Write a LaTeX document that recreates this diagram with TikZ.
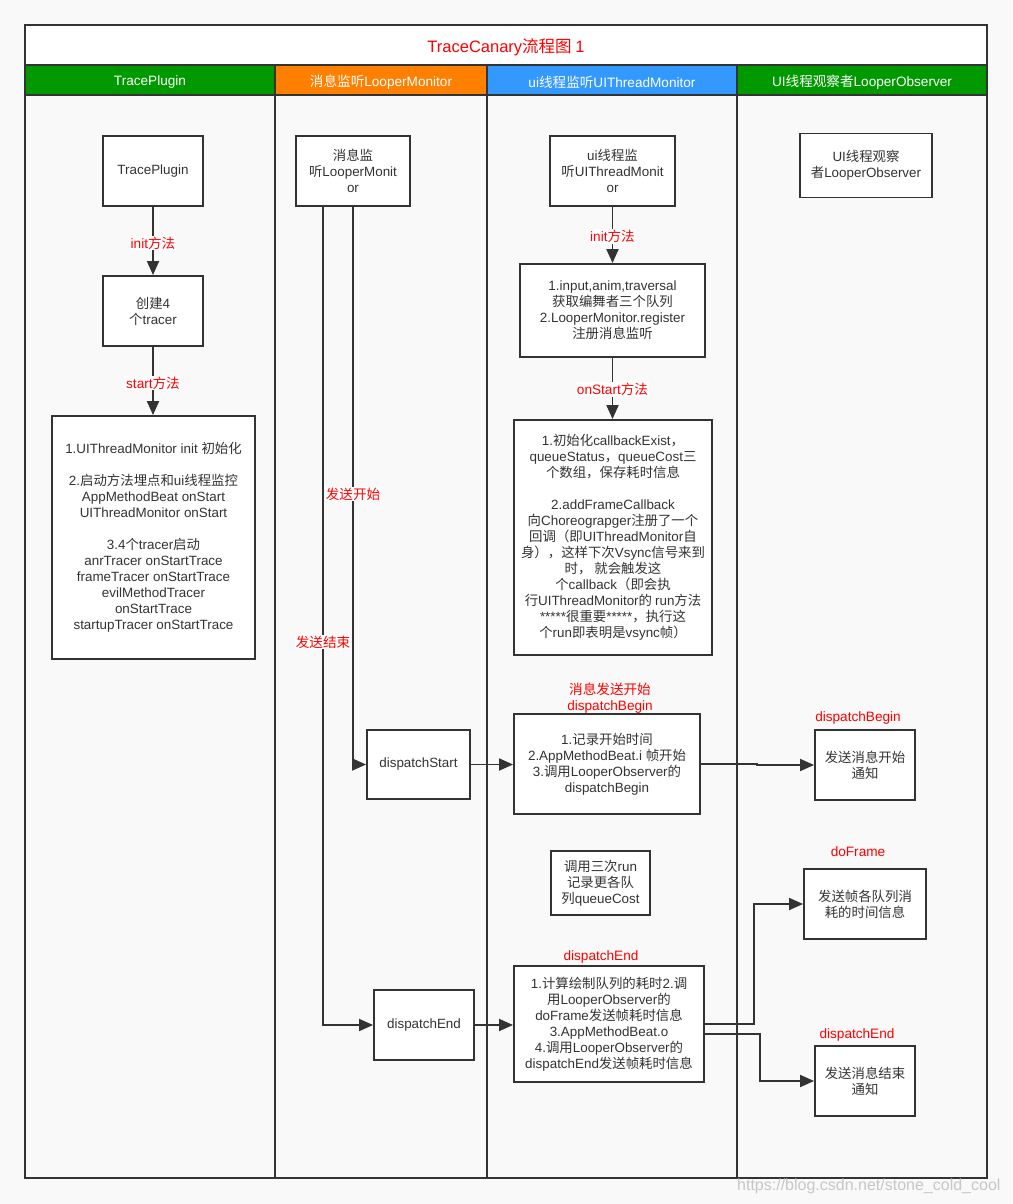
\documentclass[tikz,border=0pt]{standalone}
\usepackage{fontspec}
\setmainfont{Liberation Sans}
\newfontfamily\latinfont{Liberation Sans}
\newfontfamily\cjkfont{Noto Sans CJK SC}
\usetikzlibrary{arrows.meta}
\XeTeXinterchartokenstate=1
\newXeTeXintercharclass\CJKcls
\newcount\cjkc
\cjkc="4E00
\loop\XeTeXcharclass\cjkc=\CJKcls\advance\cjkc by 1\ifnum\cjkc<"A000\repeat
\cjkc="3000
\loop\XeTeXcharclass\cjkc=\CJKcls\advance\cjkc by 1\ifnum\cjkc<"3040\repeat
\cjkc="FF00
\loop\XeTeXcharclass\cjkc=\CJKcls\advance\cjkc by 1\ifnum\cjkc<"FFF0\repeat
\XeTeXinterchartoks 0 \CJKcls = {\cjkfont}
\XeTeXinterchartoks 4095 \CJKcls = {\cjkfont}
\XeTeXinterchartoks \CJKcls 0 = {\latinfont}
\XeTeXinterchartoks 4095 0 = {\latinfont}
\definecolor{linec}{HTML}{333333}
\definecolor{txt}{HTML}{333333}
\definecolor{bg}{HTML}{F9F9F9}
\definecolor{hgreen}{HTML}{009900}
\definecolor{horange}{HTML}{FF8000}
\definecolor{hblue}{HTML}{3399FF}
\definecolor{redt}{HTML}{FF0000}
\begin{document}
\begin{tikzpicture}[x=1pt,y=-1pt,
  box/.style={draw=linec,line width=1.9pt,fill=white,align=center,inner sep=0pt,text=txt,
    font=\fontsize{13.4}{16}\selectfont},
  lbl/.style={text=redt,fill=white,inner sep=1pt,font=\fontsize{13.6}{16}\selectfont,align=center},
  lblt/.style={text=redt,inner sep=1pt,font=\fontsize{13.6}{16}\selectfont,align=center},
  hdr/.style={text=white,font=\fontsize{13.6}{16}\selectfont},
  conn/.style={draw=linec,line width=1.9pt},
  arr/.style={conn,-{Triangle[length=14pt,width=12pt]}},
  frame/.style={draw=linec,line width=2pt}]
\useasboundingbox (0,0) rectangle (1012,1204);
\fill[bg] (0,0) rectangle (1012,1204);
% title and headers
\fill[white] (25,25) rectangle (987,65);
\fill[hgreen] (25,65) rectangle (275,95);
\fill[horange] (275,65) rectangle (487,95);
\fill[hblue] (487,65) rectangle (737,95);
\fill[hgreen] (737,65) rectangle (987,95);
\node[text=redt,font=\fontsize{16.5}{19}\selectfont] (title) at (506,47) {TraceCanary流程图 1};
\node[hdr] (h1) at (150,82) {TracePlugin};
\node[hdr] (h2) at (381,82) {消息监听LooperMonitor};
\node[hdr] (h3) at (612,82) {ui线程监听UIThreadMonitor};
\node[hdr] (h4) at (862,82) {UI线程观察者LooperObserver};
\draw[frame] (25,25) rectangle (987,1178);
\draw[frame] (25,65) -- (987,65);
\draw[frame] (25,95) -- (987,95);
\draw[frame] (275,65) -- (275,1178);
\draw[frame] (487,65) -- (487,1178);
\draw[frame] (737,65) -- (737,1178);
% lane 1
\node[box,minimum width=100pt,minimum height=70pt] (tp) at (153,171) {TracePlugin};
\node[box,minimum width=100pt,minimum height=70pt] (ct) at (153,311) {创建4\\个tracer};
\node[box,minimum width=203pt,minimum height=243pt] (bigL) at (153.5,537.5) {1.UIThreadMonitor init 初始化\\[16pt]2.启动方法埋点和ui线程监控\\AppMethodBeat onStart\\UIThreadMonitor onStart\\[16pt]3.4个tracer启动\\anrTracer onStartTrace\\frameTracer onStartTrace\\evilMethodTracer\\onStartTrace\\startupTracer onStartTrace};
\draw[arr] (tp.south) -- (ct.north) node[lbl,pos=0.53] (l1) {init方法};
\draw[arr] (ct.south) -- (ct.south |- bigL.north) node[lbl,pos=0.53] (l2) {start方法};
% lane 2
\node[box,minimum width=114pt,minimum height=70pt] (lm) at (353,171) {消息监\\听LooperMonit\\or};
\node[box,minimum width=103pt,minimum height=69pt] (ds) at (418.5,764.5) {dispatchStart};
\node[box,minimum width=100pt,minimum height=70pt] (de) at (424,1025) {dispatchEnd};
\coordinate (lmA) at (323,206);
\coordinate (lmB) at (353,206);
\draw[arr] (lmB) |- (ds.west);
\draw[arr] (lmA) |- (de.west);
\node[lbl] (l3) at (353,494) {发送开始};
\node[lbl] (l4) at (323,642) {发送结束};
% lane 3
\node[box,minimum width=125pt,minimum height=70pt] (ui) at (612.5,171) {ui线程监\\听UIThreadMonit\\or};
\node[box,minimum width=185pt,minimum height=93pt] (ui2) at (612.5,310.5) {1.input,anim,traversal\\获取编舞者三个队列\\2.LooperMonitor.register\\注册消息监听};
\node[box,minimum width=198pt,minimum height=235pt] (ui3) at (613,537.5) {1.初始化callbackExist，\\queueStatus，queueCost三\\个数组，保存耗时信息\\[16pt]2.addFrameCallback\\向Choreograpger注册了一个\\回调（即UIThreadMonitor自\\身），这样下次Vsync信号来到\\时， 就会触发这\\个callback（即会执\\行UIThreadMonitor的 run方法\\*****很重要*****，执行这\\个run即表明是vsync帧）};
\draw[arr] (ui.south) -- (ui2.north) node[lbl,pos=0.53] (l5) {init方法};
\draw[arr] (ui2.south) -- (ui2.south |- ui3.north) node[lbl,pos=0.52] (l6) {onStart方法};
\node[box,minimum width=186pt,minimum height=100pt] (b3) at (607,764) {1.记录开始时间\\2.AppMethodBeat.i 帧开始\\3.调用LooperObserver的\\dispatchBegin};
\node[lblt] (l7) at (610,698) {消息发送开始\\dispatchBegin};
\node[box,minimum width=99pt,minimum height=64pt] (run) at (600.5,883) {调用三次run\\记录更各队\\列queueCost};
\node[box,minimum width=190pt,minimum height=116pt] (b5) at (609,1024) {1.计算绘制队列的耗时2.调\\用LooperObserver的\\doFrame发送帧耗时信息\\3.AppMethodBeat.o\\4.调用LooperObserver的\\dispatchEnd发送帧耗时信息};
\node[lblt] (l8) at (601,957) {dispatchEnd};
\draw[arr] (ds.east) -- (ds.east -| b3.west);
\draw[arr] (de.east) -- (de.east -| b5.west);
% lane 4
\node[box,minimum width=132pt,minimum height=64pt] (lo) at (866,165.5) {UI线程观察\\者LooperObserver};
\node[box,minimum width=100pt,minimum height=70pt] (n1) at (865,765) {发送消息开始\\通知};
\node[box,minimum width=122pt,minimum height=70pt] (n2) at (865,904) {发送帧各队列消\\耗的时间信息};
\node[box,minimum width=100pt,minimum height=70pt] (n3) at (865,1081) {发送消息结束\\通知};
\node[lblt] (l9) at (858,718) {dispatchBegin};
\node[lblt] (l10) at (858,852) {doFrame};
\node[lblt] (l11) at (857,1035) {dispatchEnd};
\draw[arr] (b3.east) -- (757,764) -- (757,765) -- (n1.west);
\coordinate (b5a) at (704,1024);
\coordinate (b5b) at (704,1034);
\draw[arr] (b5a) -- (754,1024) |- (n2.west);
\draw[arr] (b5b) -- (760,1034) |- (n3.west);
% watermark
\node[text=black!22,font=\fontsize{16}{19}\selectfont,anchor=east] (wm) at (1004,1186) {https://blog.csdn.net/stone\_cold\_cool};
\end{tikzpicture}
\end{document}
